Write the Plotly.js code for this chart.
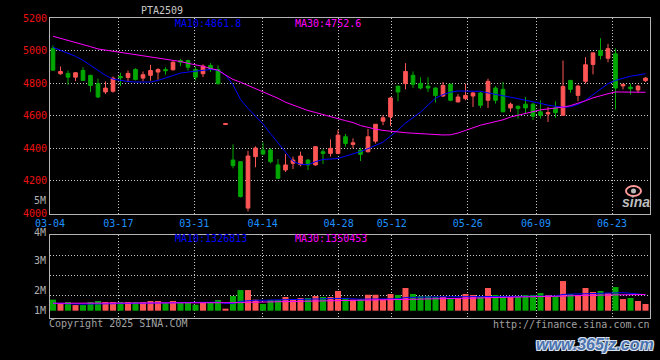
<!DOCTYPE html>
<html><head><meta charset="utf-8">
<script src="https://cdn.plot.ly/plotly-3.0.1.min.js"></script>
<style>html,body{margin:0;padding:0;background:#000;}#chart{width:660px;height:360px;}</style>
</head><body><div id="chart"></div>
<script>
// ---------- data ----------
const dates = ['03-04','03-05','03-06','03-07','03-10','03-11','03-12','03-13','03-14','03-17','03-18','03-19','03-20','03-21','03-24','03-25','03-26','03-27','03-28','03-31',
'04-01','04-02','04-03','04-07','04-08','04-09','04-10','04-11','04-14','04-15','04-16','04-17','04-18','04-21','04-22','04-23','04-24','04-25','04-28','04-29','04-30',
'05-06','05-07','05-08','05-09','05-12','05-13','05-14','05-15','05-16','05-19','05-20','05-21','05-22','05-23','05-26','05-27','05-28','05-29','05-30',
'06-03','06-04','06-05','06-06','06-09','06-10','06-11','06-12','06-13','06-16','06-17','06-18','06-19','06-20','06-23','06-24','06-25','06-26','06-27','06-30'];

const openP = [5014,4858,4860,4837,4878,4848,4797,4746,4750,4841,
 4835,4884,4831,4848,4868,4884,4882,4939,4939,4884,
 4858,4909,4884,4546,4328,4318,4033,4349,4389,4390,
 4298,4267,4308,4300,4328,4298,4379,4369,4369,4471,
 4424,4389,4379,4444,4567,4593,4782,4797,4848,4799,
 4782,4770,4721,4793,4685,4705,4721,4740,4695,4770,
 4762,4648,4658,4671,4671,4624,4611,4648,4603,4817,
 4725,4811,4915,5000,4953,4980,4783,4776,4758,4815];
const highP = [5031,4902,4878,4866,4898,4852,4827,4811,4841,4864,
 4878,4892,4872,4913,4892,4898,4933,4949,4945,4902,
 4915,4923,4909,4552,4424,4318,4385,4412,4436,4400,
 4334,4365,4349,4380,4334,4414,4394,4455,4513,4488,
 4461,4404,4519,4548,4603,4715,4782,4923,4872,4837,
 4837,4776,4807,4797,4733,4797,4746,4746,4827,4782,
 4807,4681,4664,4715,4681,4695,4654,4689,4939,4817,
 4790,4960,4986,5076,5041,5014,4797,4797,4790,4837];
const lowP = [4878,4852,4790,4813,4817,4746,4709,4734,4742,4782,
 4807,4817,4811,4815,4821,4852,4878,4905,4878,4817,
 4837,4868,4791,4546,4277,4098,4013,4284,4358,4308,
 4212,4255,4273,4290,4267,4294,4304,4349,4363,4410,
 4400,4322,4375,4430,4542,4538,4689,4762,4770,4762,
 4746,4681,4715,4689,4681,4695,4654,4648,4648,4675,
 4624,4624,4583,4613,4573,4583,4562,4587,4603,4742,
 4689,4797,4854,4945,4929,4638,4762,4729,4742,4807];
const closeP = [4880,4872,4837,4864,4817,4786,4715,4770,4831,4833,
 4860,4823,4852,4878,4884,4876,4929,4929,4898,4837,
 4905,4888,4797,4552,4294,4104,4353,4402,4365,4318,
 4216,4298,4328,4353,4298,4410,4369,4400,4481,4430,
 4434,4363,4471,4548,4587,4709,4746,4872,4793,4770,
 4770,4725,4786,4695,4715,4725,4740,4664,4811,4695,
 4624,4671,4644,4648,4597,4603,4619,4619,4780,4762,
 4782,4913,4986,4970,5012,4770,4793,4766,4782,4831];
const ma10 = [5020,5002,4985,4965,4940,4908,4878,4848,4825,4817,
 4810,4807,4807,4807,4817,4832,4848,4862,4868,4872,
 4878,4884,4880,4850,4790,4700,4645,4598,4550,4490,
 4435,4375,4320,4302,4300,4318,4332,4334,4338,4352,
 4364,4380,4398,4418,4438,4475,4512,4555,4590,4622,
 4665,4708,4730,4745,4752,4752,4752,4750,4740,4732,
 4725,4714,4705,4695,4687,4676,4665,4657,4652,4655,
 4670,4695,4728,4762,4797,4817,4830,4843,4850,4858];
const ma30 = [5088,5076,5062,5050,5038,5024,5010,5003,4996,4989,
 4982,4976,4970,4963,4953,4945,4939,4933,4922,4913,
 4903,4890,4880,4850,4823,4806,4786,4768,4750,4728,
 4707,4683,4665,4648,4632,4620,4606,4595,4582,4570,
 4558,4540,4528,4518,4510,4505,4498,4496,4493,4490,
 4486,4482,4482,4483,4494,4510,4528,4542,4553,4563,
 4575,4592,4604,4614,4626,4636,4642,4647,4653,4662,
 4675,4692,4710,4724,4735,4746,4746,4746,4745,4744];
const volume = [920000,640000,720000,470000,470000,720000,810000,720000,720000,720000,
 720000,720000,720000,810000,810000,640000,810000,640000,720000,500000,
 720000,720000,890000,170000,1220000,1720000,1720000,920000,560000,890000,
 890000,1140000,920000,1060000,1060000,1220000,1140000,1140000,1640000,1060000,
 920000,970000,1330000,1330000,920000,1390000,1310000,1890000,1390000,1220000,
 1220000,1140000,1140000,1060000,1060000,1390000,1310000,1140000,1890000,1310000,
 1140000,1140000,1140000,1310000,1310000,1470000,1310000,1220000,2470000,1390000,
 1310000,1890000,1560000,1640000,1470000,1970000,970000,1060000,810000,560000];
const volMa10 = [620000,620000,610000,560000,550000,560000,600000,620000,640000,650000,
 660000,670000,680000,690000,700000,700000,710000,710000,710000,700000,
 700000,700000,710000,600000,610000,780000,850000,870000,870000,890000,
 900000,910000,920000,940000,960000,980000,990000,1000000,1020000,1010000,
 970000,960000,970000,980000,960000,970000,990000,1100000,1130000,1140000,
 1140000,1150000,1150000,1150000,1140000,1140000,1150000,1160000,1160000,1170000,
 1180000,1180000,1190000,1200000,1210000,1220000,1220000,1220000,1360000,1380000,
 1390000,1410000,1440000,1480000,1510000,1540000,1500000,1450000,1400000,1330000];
const volMa30 = [620000,620000,620000,620000,620000,620000,620000,620000,620000,620000,
 620000,620000,620000,620000,620000,620000,620000,630000,630000,630000,
 630000,630000,630000,620000,640000,670000,700000,710000,710000,720000,
 730000,740000,750000,760000,770000,790000,800000,810000,830000,840000,
 850000,860000,880000,890000,890000,900000,910000,940000,960000,970000,
 970000,980000,990000,990000,1000000,1020000,1040000,1060000,1090000,1110000,
 1120000,1130000,1140000,1150000,1160000,1180000,1190000,1200000,1240000,1250000,
 1260000,1280000,1290000,1300000,1310000,1330000,1330000,1340000,1340000,1350000];

const title = 'PTA2509';
const priceTicks = [4000,4200,4400,4600,4800,5000,5200];
const dateTickLabels = ['03-04','03-17','03-31','04-14','04-28','05-12','05-26','06-09','06-23'];
const volLabels = ['5M','4M','3M','2M','1M'];
const maPriceText = ['MA10:4861.8','MA30:4752.6'];
const maVolText = ['MA10:1326813','MA30:1350453'];

// ---------- styling / layout ----------
const RED = '#ff5555', GREEN = '#00a800', BLUE = '#0000ff', MAG = '#ff00ff';
const GRID = '#c8c8c8', FRAME = '#b4b4b4';
const W = 660, H = 360, ML = 50, MR = 10, MT = 18, MB = 42;
const px = x => (x - ML) / (W - ML - MR);
const py = y => (H - MB - y) / (H - MT - MB);

const idx = dates.map((d, i) => i);
const n = dates.length;
const barColors = closeP.map((c, i) => c >= openP[i] ? RED : GREEN);
const tickvals = dateTickLabels.map(d => dates.indexOf(d) * n / (n - 1) - 0.4);

// volume axis: 0 at y=310.7px, 12px per million
const volAt = y => (310.7 - y) / 12 * 1e6;

const traces = [
  {type: 'candlestick', x: idx, open: openP, high: highP, low: lowP, close: closeP,
   xaxis: 'x', yaxis: 'y', whiskerwidth: 0,
   increasing: {line: {color: RED, width: 1}, fillcolor: RED},
   decreasing: {line: {color: GREEN, width: 1}, fillcolor: GREEN},
   hoverinfo: 'skip'},
  {type: 'scatter', mode: 'lines', x: idx, y: ma10, xaxis: 'x', yaxis: 'y', line: {color: BLUE, width: 1}},
  {type: 'scatter', mode: 'lines', x: idx, y: ma30, xaxis: 'x', yaxis: 'y', line: {color: MAG, width: 1}},
  {type: 'bar', x: idx, y: volume, xaxis: 'x2', yaxis: 'y2', marker: {color: barColors, line: {width: 0}}},
  {type: 'scatter', mode: 'lines', x: idx, y: volMa10, xaxis: 'x2', yaxis: 'y2', line: {color: BLUE, width: 1}},
  {type: 'scatter', mode: 'lines', x: idx, y: volMa30, xaxis: 'x2', yaxis: 'y2', line: {color: MAG, width: 1}}
];

const gridStyle = {showgrid: true, gridcolor: GRID, gridwidth: 1, griddash: '1px,2px',
  showline: true, mirror: true, linecolor: FRAME, linewidth: 1, ticks: '', zeroline: false, fixedrange: true};

const ann = (text, x, y, color, xanchor, extra) => Object.assign({
  text, x: px(x), y: py(y), xref: 'paper', yref: 'paper', showarrow: false, borderpad: 0,
  xanchor: xanchor || 'left', yanchor: 'middle', font: {color, size: 10, family: 'DejaVu Sans Mono, monospace'}
}, extra || {});

const volLabelY = [200.3, 232, 260.7, 290.7, 310.7];
const annotations = [
  ann(title, 162, 10, '#c8c8c8', 'center'),
  ann(maPriceText[0], 174, 23.5, BLUE),
  ann(maPriceText[1], 294, 23.5, MAG),
  ann(maVolText[0], 174, 238.5, BLUE),
  ann(maVolText[1], 294, 238.5, MAG),
  ann('Copyright 2025 SINA.COM', 48, 323.5, '#a0a0a0'),
  ann('http://finance.sina.com.cn', 651, 324, '#a0a0a0', 'right'),
  ann('www.365jz.com', 595, 344, '#4a72ad', 'center',
      {font: {family: 'Liberation Sans, Arial, sans-serif', size: 16, weight: 'bold', style: 'italic', color: '#4a72ad',
       shadow: '1px 1px 0 #d8e0ee, -1px -1px 0 #d8e0ee, 1px -1px 0 #d8e0ee, -1px 1px 0 #d8e0ee'}}),
  ann('sina', 636, 202, '#c4c4c4', 'center',
      {font: {family: 'Liberation Sans, Arial, sans-serif', size: 14, weight: 'bold', style: 'italic', color: '#bdbdbd'}})
].concat(volLabels.map((t, i) => ann(t, 47, volLabelY[i], '#b0b0b0', 'right')));

const shapes = [
  {type: 'circle', xref: 'paper', yref: 'paper', x0: px(626), x1: px(641), y0: py(196), y1: py(186),
   line: {color: '#ff9a9a', width: 2}},
  {type: 'circle', xref: 'paper', yref: 'paper', x0: px(631), x1: px(636), y0: py(193.5), y1: py(188.5),
   line: {width: 0}, fillcolor: '#b8b8b8'}
];

const layout = {
  width: W, height: H, paper_bgcolor: '#000', plot_bgcolor: '#000',
  margin: {l: ML, r: MR, t: MT, b: MB, pad: 0},
  showlegend: false, bargap: 0.2,
  font: {family: 'DejaVu Sans Mono, monospace', size: 10, color: '#c0c0c0'},
  xaxis: Object.assign({}, gridStyle, {domain: [0, 1], anchor: 'y', range: [-0.4, n - 0.4],
    tickmode: 'array', tickvals: tickvals, ticktext: dateTickLabels,
    tickfont: {color: '#1e90ff', size: 10}, rangeslider: {visible: false}}),
  yaxis: Object.assign({}, gridStyle, {domain: [py(213.5), 1], anchor: 'x', range: [4000, 5200],
    tickmode: 'array', tickvals: priceTicks, ticktext: priceTicks.map(String),
    tickfont: {color: '#ee1111', size: 10}}),
  xaxis2: Object.assign({}, gridStyle, {domain: [0, 1], anchor: 'y2', range: [-0.4, n - 0.4],
    tickmode: 'array', tickvals: tickvals, showticklabels: false}),
  yaxis2: Object.assign({}, gridStyle, {domain: [0, py(234.7)], anchor: 'x2',
    range: [volAt(318), volAt(234.7)], tickmode: 'array',
    tickvals: [volAt(295.3), volAt(275.3), volAt(255.3)], showticklabels: false}),
  annotations, shapes
};

Plotly.newPlot('chart', traces, layout, {staticPlot: true, displayModeBar: false});
</script></body></html>
